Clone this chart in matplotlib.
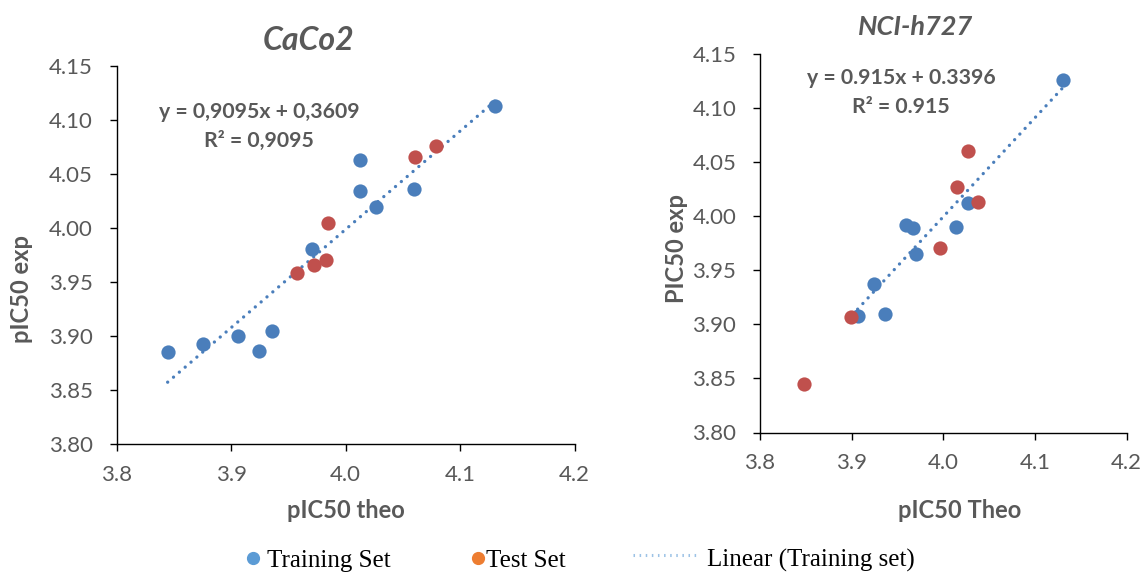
import numpy as np
import matplotlib
matplotlib.use("Agg")
import matplotlib.pyplot as plt
from matplotlib.lines import Line2D
from matplotlib.ticker import FormatStrFormatter, MultipleLocator

# CaCo2 panel
caco2_train_x = [3.8445, 3.8757, 3.9059, 3.9240, 3.9354, 3.9703, 4.0125, 4.0125, 4.0262, 4.0597, 4.1304]
caco2_train_y = [3.8857, 3.8931, 3.9003, 3.8861, 3.9052, 3.9811, 4.0626, 4.0339, 4.0194, 4.0364, 4.1132]
caco2_test_x = [3.9572, 3.9726, 3.9828, 3.9843, 4.0605, 4.0789]
caco2_test_y = [3.9583, 3.9660, 3.9706, 4.0043, 4.0657, 4.0756]
caco2_fit = (0.9095, 0.3609)
caco2_eq = ["y = 0,9095x + 0,3609", "R² = 0,9095"]

# NCI-h727 panel
nci_train_x = [4.1308, 4.0272, 4.0134, 3.9589, 3.9673, 3.9706, 3.9247, 3.9065, 3.9359]
nci_train_y = [4.1258, 4.0118, 3.9896, 3.9918, 3.9893, 3.9647, 3.9370, 3.9079, 3.9095]
nci_test_x = [4.0272, 4.0152, 4.0381, 3.9960, 3.8989, 3.8483]
nci_test_y = [4.0602, 4.0269, 4.0130, 3.9705, 3.9067, 3.8448]
nci_fit = (0.915, 0.3396)
nci_eq = ["y = 0.915x + 0.3396", "R² = 0.915"]

legend_labels = ["Training Set", "Test Set", "Linear (Training set)"]

BLUE = "#4A7EBB"
RED = "#C0504D"
GRAY = "#595959"
W, H = 1144, 572

plt.rcParams['font.family'] = ['Lato', 'DejaVu Sans']

fig = plt.figure(figsize=(W / 100, H / 100), dpi=100)


def px(x0, y0, x1, y1):
    return [x0 / W, 1 - y1 / H, (x1 - x0) / W, (y1 - y0) / H]


def panel(rect, tx, ty, sx, sy, fit, eq, eqx, eqy, xlabel, ylabel, xlab_pos, ylab_pos):
    ax = fig.add_axes(rect)
    ax.scatter(tx, ty, s=105, color=BLUE, zorder=3, linewidths=0)
    ax.scatter(sx, sy, s=105, color=RED, zorder=3, linewidths=0)
    xs = np.array([min(tx), max(tx)])
    ax.plot(xs, fit[0] * xs + fit[1], color=BLUE, lw=2.4,
            linestyle=(0, (0.01, 2.3)), dash_capstyle='round', zorder=2)
    ax.set_xlim(3.8, 4.2)
    ax.set_ylim(3.80, 4.15)
    ax.xaxis.set_major_locator(MultipleLocator(0.1))
    ax.yaxis.set_major_locator(MultipleLocator(0.05))
    ax.xaxis.set_major_formatter(FormatStrFormatter('%.1f'))
    ax.yaxis.set_major_formatter(FormatStrFormatter('%.2f'))
    for s in ['top', 'right']:
        ax.spines[s].set_visible(False)
    for s in ['left', 'bottom']:
        ax.spines[s].set_linewidth(1.0)
        ax.spines[s].set_color('black')
    ax.tick_params(direction='out', length=5, width=1.0, colors='black',
                   labelcolor=GRAY, labelsize=16)
    ax.tick_params(axis='y', pad=12)
    ax.tick_params(axis='x', pad=10)
    ax.set_xlabel(xlabel, fontsize=17, fontweight='bold', color=GRAY)
    ax.set_ylabel(ylabel, fontsize=17, fontweight='bold', color=GRAY)
    ax.xaxis.set_label_coords(*xlab_pos)
    ax.yaxis.set_label_coords(*ylab_pos)
    ax.text(eqx, eqy[0], eq[0], ha='center', va='baseline', fontsize=15.3,
            fontweight='bold', color=GRAY)
    ax.text(eqx, eqy[1], eq[1], ha='center', va='baseline', fontsize=15.3,
            fontweight='bold', color=GRAY)
    return ax


ax1 = panel(px(116.7, 66, 574.7, 444.3), caco2_train_x, caco2_train_y,
            caco2_test_x, caco2_test_y, caco2_fit, caco2_eq, 3.9243,
            (4.1019, 4.075), "pIC50 theo", "pIC50 exp", (0.5, -0.145), (-0.182, 0.41))
ax2 = panel(px(760, 54, 1126.7, 432.5), nci_train_x, nci_train_y,
            nci_test_x, nci_test_y, nci_fit, nci_eq, 3.9538,
            (4.1221, 4.0956), "pIC50 Theo", "PIC50 exp", (0.545, -0.176), (-0.195, 0.485))

fig.text(309 / W, 1 - 50 / H, "CaCo2", ha='center', va='baseline', fontsize=23,
         fontweight='bold', style='italic', color=GRAY)
fig.text(916 / W, 1 - 35 / H, "NCI-h727", ha='center', va='baseline', fontsize=19.5,
         fontweight='bold', style='italic', color=GRAY)

# legend drawn along the bottom
ly = 1 - 558 / H
fig.add_artist(Line2D([252.7 / W], [ly], marker='o', markersize=8.5, color="#5B9BD5",
                      linestyle='none', transform=fig.transFigure))
fig.add_artist(Line2D([478.3 / W], [ly], marker='o', markersize=8.5, color="#ED7D31",
                      linestyle='none', transform=fig.transFigure))
fig.add_artist(Line2D([633 / W, 698 / W], [1 - 555 / H] * 2, color="#9DC3E6", lw=2.2,
                      linestyle=(0, (0.5, 1.5)), transform=fig.transFigure))
bl = 1 - 566.7 / H
for x, lab in zip([266.7, 486, 706.7], legend_labels):
    fig.text(x / W, bl, lab, ha='left', va='baseline', fontsize=18,
             family='Liberation Serif', color='black')

fig.savefig("out.png", dpi=100)
